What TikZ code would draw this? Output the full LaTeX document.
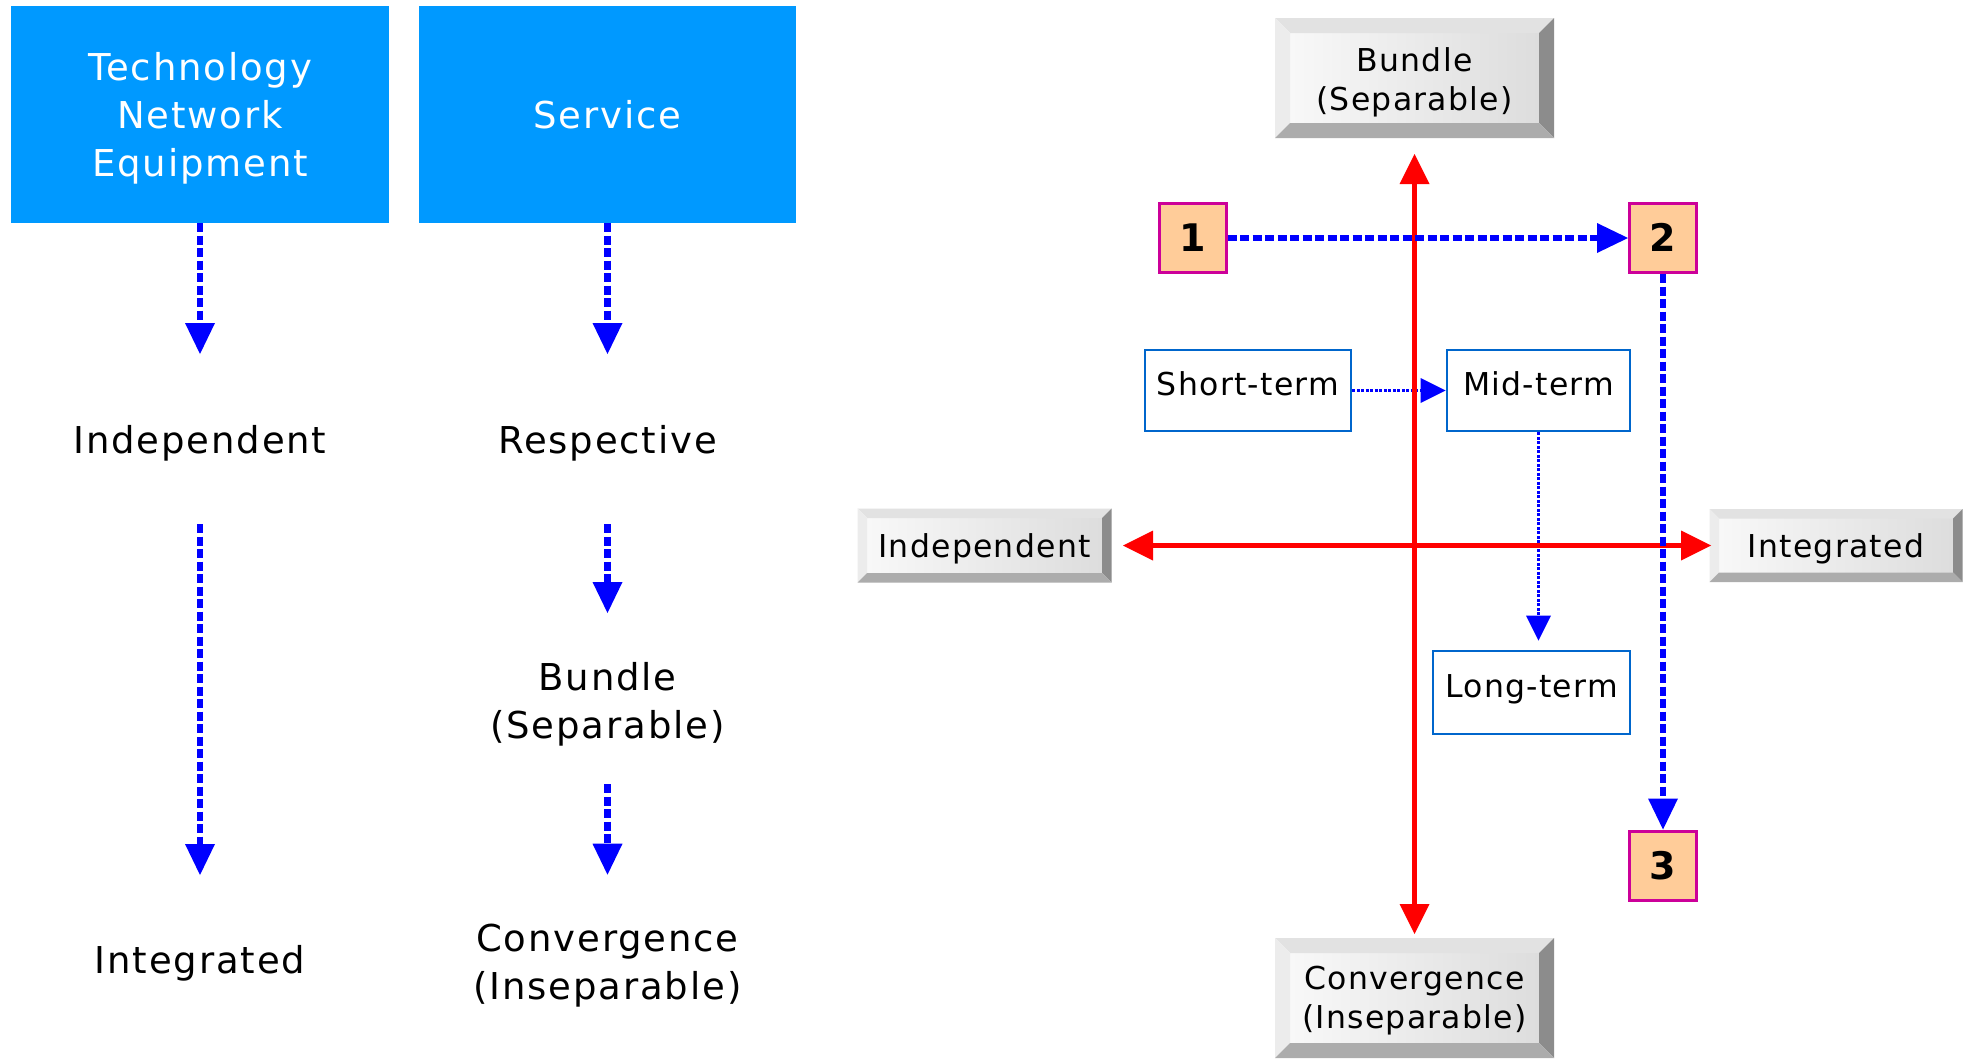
\documentclass[tikz,border=0pt]{standalone}
\usepackage{fontspec}
\setmainfont{DejaVu Sans}
\newfontfamily\lfont[LetterSpace=5]{DejaVu Sans}
\newfontfamily\rfont[LetterSpace=4]{DejaVu Sans}
\usetikzlibrary{arrows.meta}
\definecolor{boxblue}{RGB}{0,153,255}
\definecolor{dotblue}{RGB}{0,0,255}
\definecolor{axisred}{RGB}{255,0,0}
\definecolor{termblue}{RGB}{0,102,204}
\definecolor{peach}{RGB}{255,204,153}
\definecolor{magentab}{RGB}{204,0,153}
\definecolor{facel}{RGB}{248,248,248}
\definecolor{facer}{RGB}{221,221,221}
\definecolor{bvtop}{RGB}{226,226,226}
\definecolor{bvleft}{RGB}{236,236,236}
\definecolor{bvright}{RGB}{140,140,140}
\definecolor{bvbottom}{RGB}{172,172,172}
\newcommand\bevelframe[2]{%
  \fill[bvtop] (#1.north west) -- ([shift={(-#2,-#2)}]#1.north west) -- ([shift={(#2,-#2)}]#1.north east) -- (#1.north east) -- cycle;
  \fill[bvleft] (#1.north west) -- ([shift={(-#2,-#2)}]#1.north west) -- ([shift={(-#2,#2)}]#1.south west) -- (#1.south west) -- cycle;
  \fill[bvright] (#1.north east) -- ([shift={(#2,-#2)}]#1.north east) -- ([shift={(#2,#2)}]#1.south east) -- (#1.south east) -- cycle;
  \fill[bvbottom] (#1.south west) -- ([shift={(-#2,#2)}]#1.south west) -- ([shift={(#2,#2)}]#1.south east) -- (#1.south east) -- cycle;
}
\begin{document}
\begin{tikzpicture}[x=1pt,y=-1pt,
  headbox/.style={rectangle, fill=boxblue, text=white, inner sep=0pt, outer sep=0pt, align=center, font=\lfont\fontsize{37}{48}\selectfont},
  plainlbl/.style={inner sep=0pt, outer sep=0pt, font=\lfont\fontsize{37}{48}\selectfont},
  caplbl/.style={plainlbl, text height=27pt, text depth=0pt},
  multilbl/.style={plainlbl, align=center},
  face/.style={rectangle, draw=none, inner sep=0pt, outer sep=0pt, left color=facel, right color=facer, font=\rfont\fontsize{31.5}{39}\selectfont},
  facecap/.style={face, text height=23pt, text depth=0pt},
  facemulti/.style={face, align=center},
  termbox/.style={rectangle, draw=termblue, line width=2.7pt, fill=white, inner sep=0pt, text height=23pt, text depth=14pt, font=\rfont\fontsize{31.5}{35}\selectfont},
  numbox/.style={rectangle, draw=magentab, fill=peach, line width=3pt, inner sep=0pt, minimum width=67pt, minimum height=69pt, text height=27.7pt, text depth=0pt, font=\bfseries\fontsize{38}{44}\selectfont},
  thickdot/.style={draw=dotblue, line width=6.5pt, dash pattern=on 9pt off 3.5pt, -{Triangle[length=31pt,width=30pt,line width=0pt]}},
  thindot/.style={draw=dotblue, line width=3pt, dash pattern=on 3pt off 1.5pt, -{Triangle[length=25pt,width=25pt,line width=0pt]}},
  redaxis/.style={draw=axisred, line width=5.5pt, {Triangle[length=30pt,width=30pt,line width=0pt]}-{Triangle[length=30pt,width=30pt,line width=0pt]}}
]
\useasboundingbox (0,0) rectangle (1966,1058);
\fill[white] (0,0) rectangle (1966,1058);

% ---- left part ----
\node[headbox, minimum width=378pt, minimum height=217pt] (tech) at (200,114.5) {\rule{0pt}{36pt}Technology\\Network\\Equipment};
\node[headbox, minimum width=377pt, minimum height=217pt] (serv) at (607.5,114.5) {Service};
\node[caplbl] (indepL) at (200,440) {Independent};
\node[caplbl] (integL) at (200,960) {Integrated};
\node[caplbl] (respL) at (607.5,440) {Respective};
\node[multilbl] (bundL) at (607.5,704.3) {Bundle\\(Separable)};
\node[multilbl] (convL) at (607.5,965.3) {Convergence\\(Inseparable)};

\draw[thickdot, shorten >=72.5pt] (tech.south) -- (indepL);
\draw[thickdot, shorten <=70.5pt, shorten >=71.5pt] (indepL) -- (integL);
\draw[thickdot, shorten >=72.5pt] (serv.south) -- (respL);
\draw[thickdot, shorten <=70.5pt, shorten >=49.4pt] (respL) -- (bundL);
\draw[thickdot, shorten <=37.8pt, shorten >=49pt] (bundL) -- (convL);

% ---- right part ----
\node[facemulti, minimum width=249pt, minimum height=90pt] (bundR) at (1414.5,78) {\rule{0pt}{33pt}Bundle\\(Separable)};
\bevelframe{bundR}{15}
\node[facemulti, minimum width=249pt, minimum height=90pt] (convR) at (1414.5,998) {\rule{0pt}{29.4pt}Convergence\\(Inseparable)};
\bevelframe{convR}{15}
\node[facecap, minimum width=235pt, minimum height=55pt] (indepR) at (984.5,545.5) {Independent};
\bevelframe{indepR}{9.5}
\node[facecap, minimum width=234pt, minimum height=54pt] (integR) at (1836,545.5) {Integrated};
\bevelframe{integR}{9.5}

\node[termbox, minimum width=206pt, minimum height=81pt] (short) at (1248,390.5) {Short-term};
\node[termbox, minimum width=183pt, minimum height=81pt] (mid) at (1538.5,390.5) {Mid-term};
\node[termbox, minimum width=197pt, minimum height=83pt] (long) at (1531.5,692.5) {Long-term};

\draw[thindot] (short) -- (mid);
\draw[thindot, shorten >=9pt] (mid.south) -- (mid.south |- long.north);

\draw[redaxis, shorten <=31pt, shorten >=19pt] (bundR.south) -- (convR.north);
\draw[redaxis, shorten <=21pt, shorten >=8pt] (indepR.east) -- (integR.west);

\node[numbox] (n1) at (1192.5,238) {1};
\node[numbox] (n2) at (1663,238) {2};
\node[numbox] (n3) at (1662.5,865.5) {3};

\draw[thickdot] (n1) -- (n2);
\draw[thickdot] (n2.south) -- (n2.south |- n3.north);
\end{tikzpicture}
\end{document}
